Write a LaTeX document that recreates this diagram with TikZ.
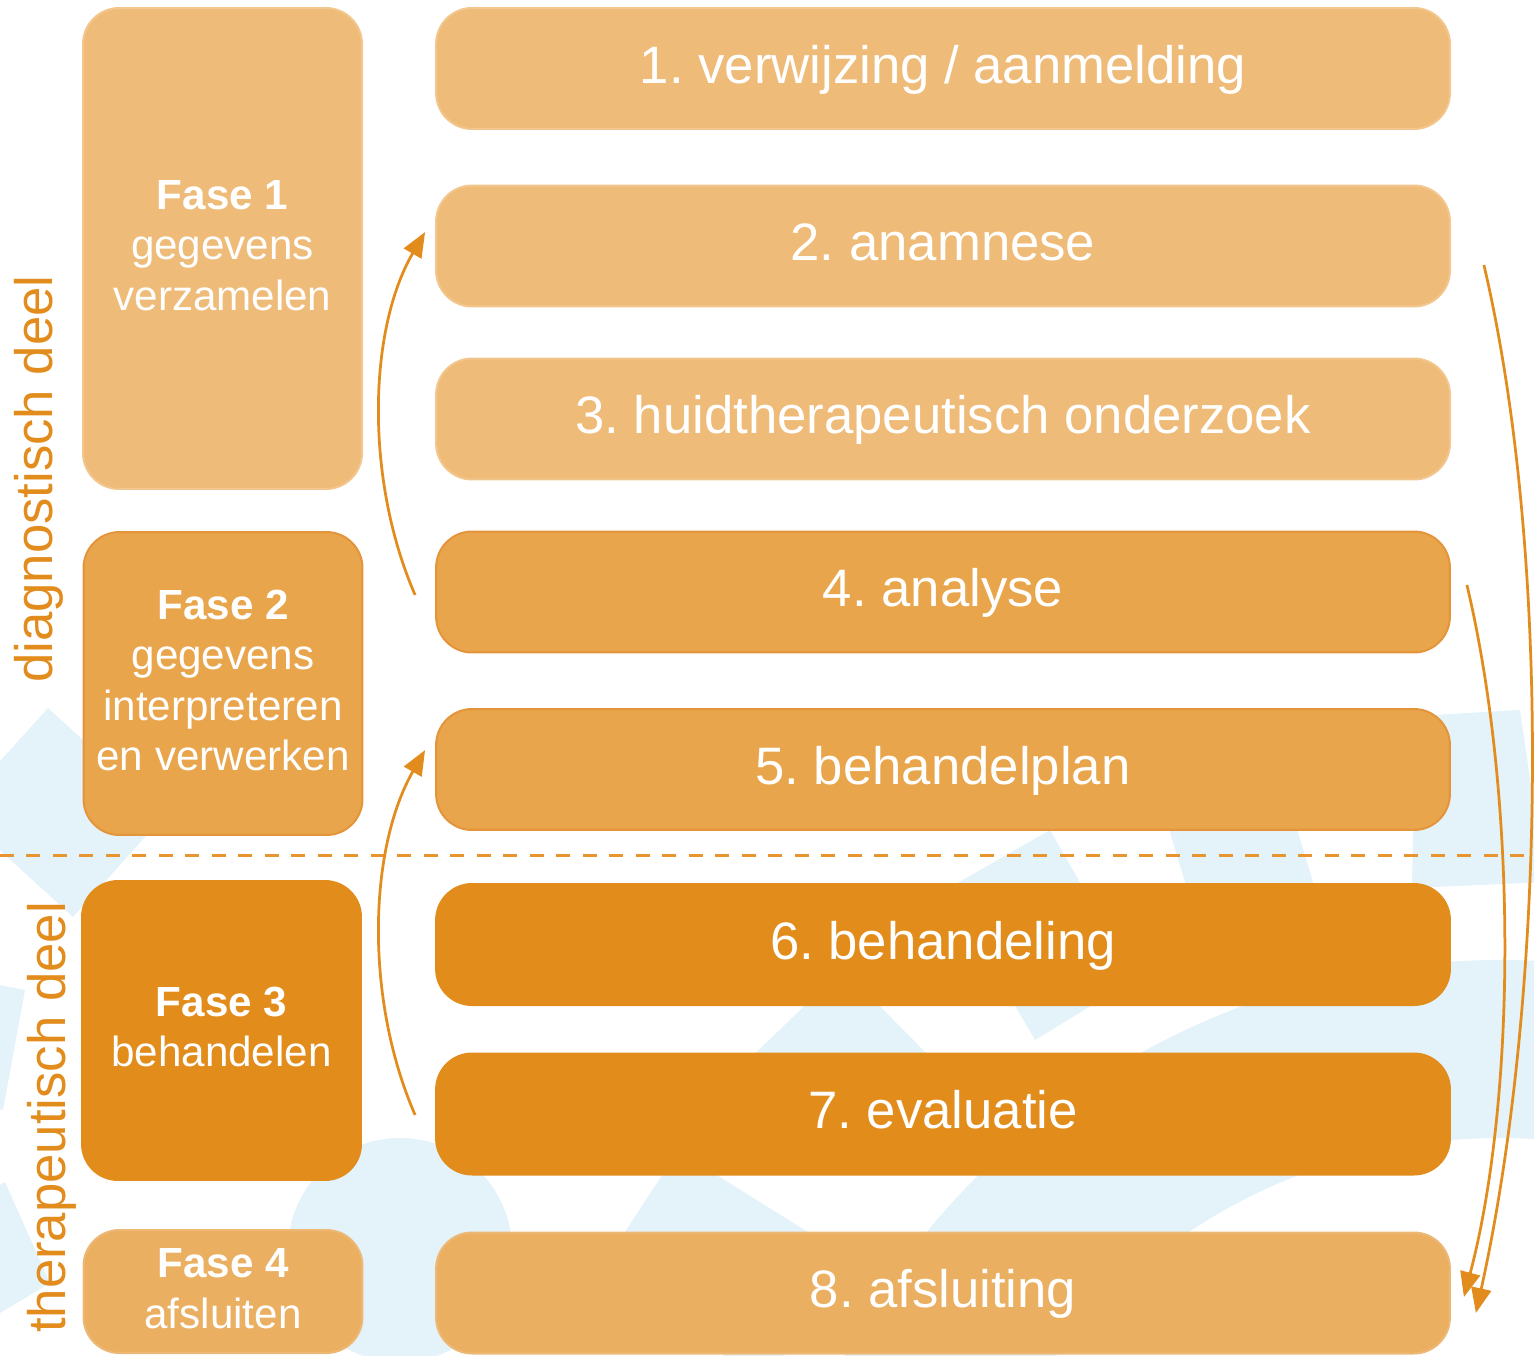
\documentclass[tikz,border=0pt]{standalone}
\usepackage{fontspec}
\setmainfont{Liberation Sans}
\usetikzlibrary{arrows.meta,calc}
\definecolor{bgblue}{HTML}{E4F2F9}
\definecolor{fillA}{HTML}{EFBB79}
\definecolor{drawA}{HTML}{F2C68C}
\definecolor{fillB}{HTML}{E8A54B}
\definecolor{drawB}{HTML}{E4943A}
\definecolor{fillC}{HTML}{E18C1B}
\definecolor{fillD}{HTML}{EBAF62}
\definecolor{drawD}{HTML}{EDB876}
\definecolor{lineor}{HTML}{E28C1E}
\definecolor{dashor}{HTML}{E8952F}
\frenchspacing
\begin{document}
\begin{tikzpicture}[x=0.02cm,y=-0.02cm,
  stepbox/.style={rounded corners=0.72cm, minimum width=20.28cm, minimum height=2.42cm,
    inner sep=0pt, text=white, font=\fontsize{30}{36}\selectfont,
    text height=21.5pt, text depth=4.5pt, line width=0.04cm},
  fasebox/.style={rounded corners=0.72cm, minimum width=5.58cm, inner sep=0pt,
    text=white, align=center, font=\fontsize{24}{28.7}\selectfont, line width=0.04cm},
  styA/.style={fill=fillA, draw=drawA},
  styB/.style={fill=fillB, draw=drawB},
  styC/.style={fill=fillC, draw=fillC},
  styD/.style={fill=fillD, draw=drawD},
  sidetext/.style={rotate=90, anchor=base, inner sep=0pt, text=lineor,
    font=\fontsize{30}{36}\selectfont},
  arr/.style={draw=lineor, line width=0.055cm,
    -{Triangle[length=0.5cm,width=0.4cm]}, fill=none},
  dashline/.style={draw=dashor, line width=0.06cm, dash pattern=on 0.28cm off 0.25cm}
]
\useasboundingbox (0,0) rectangle (1534,1355);
% faint background watermark
\begin{scope}
\clip (0,0) rectangle (1534,1355);
\fill[bgblue] (400,1250) circle [radius=112];
\fill[bgblue, even odd rule] (1500,1700) circle [radius=740] (1500,1700) circle [radius=562];
\fill[bgblue] (843,969) -- (742,1066) -- (840,1165) -- (941,1068) -- cycle;
\fill[bgblue] (678,1151) -- (596,1276) -- (766,1382) -- (848,1257) -- cycle;
\fill[bgblue] (1050,830) -- (1135,979) -- (1035,1040) -- (947,889) -- cycle;
\fill[bgblue] (1134,714) -- (1262,714) -- (1320,905) -- (1192,905) -- cycle;
\fill[bgblue] (1415,716) -- (1520,710) -- (1545,882) -- (1412,888) -- cycle;
\fill[bgblue] (48,708) -- (165,815) -- (73,917) -- (-44,810) -- cycle;
\fill[bgblue] (-100,965) -- (25,990) -- (3,1110) -- (-122,1085) -- cycle;
\fill[bgblue] (5,1182) -- (50,1283) -- (0,1313) -- (-45,1212) -- cycle;
\end{scope}
% separator
\coordinate (sepL) at (0,855);
\coordinate (sepR) at (1534,855);
\draw[dashline] (sepL) -- (sepR);
% phase boxes
\node[fasebox, styA, minimum height=9.62cm] (f1) at (222.5,248.5)
  {\textbf{Fase 1}\\gegevens\\verzamelen\rule[-3.5pt]{0pt}{0pt}};
\node[fasebox, styB, minimum height=6.06cm] (f2) at (223,683.5)
  {\textbf{Fase 2}\\gegevens\\interpreteren\\en verwerken\rule[-3.5pt]{0pt}{0pt}};
\node[fasebox, styC, minimum height=5.98cm] (f3) at (221.5,1030.5)
  {\textbf{Fase 3}\\behandelen\rule[-4.5pt]{0pt}{0pt}};
\node[fasebox, styD, minimum height=2.46cm] (f4) at (223,1291.5)
  {\textbf{Fase 4}\\afsluiten\rule[-3.5pt]{0pt}{0pt}};
% step boxes
\node[stepbox, styA] (b1) at (943,68.5) {1. verwijzing / aanmelding};
\node[stepbox, styA] (b2) at (943,246) {2. anamnese};
\node[stepbox, styA] (b3) at (943,419) {3. huidtherapeutisch onderzoek};
\node[stepbox, styB] (b4) at (943,592) {4. analyse};
\node[stepbox, styB] (b5) at (943,769.5) {5. behandelplan};
\node[stepbox, styC] (b6) at (943,944.5) {6. behandeling};
\node[stepbox, styC] (b7) at (943,1114) {7. evaluatie};
\node[stepbox, styD] (b8) at (943,1293) {8. afsluiting};
% side labels
\node[sidetext] (diag) at (52,479) {diagnostisch deel};
\node[sidetext] (ther) at (65,1117.5) {therapeutisch deel};
% arrows
\draw[arr] ($(b4.west)+(-20,3)$) .. controls (365,480) and (368,330) .. ($(b2.west)+(-10,-14)$);
\draw[arr] ($(b7.west)+(-20,1)$) .. controls (365,1000) and (368,850) .. ($(b5.west)+(-10,-19.5)$);
\draw[arr] ($(b2.east)+(33,19)$) .. controls (1553,560) and (1545,1000) .. ($(b8.east)+(25,20)$);
\draw[arr] ($(b4.east)+(16,-7)$) .. controls (1518,800) and (1516,1100) .. ($(b8.east)+(13,4)$);
\end{tikzpicture}
\end{document}
